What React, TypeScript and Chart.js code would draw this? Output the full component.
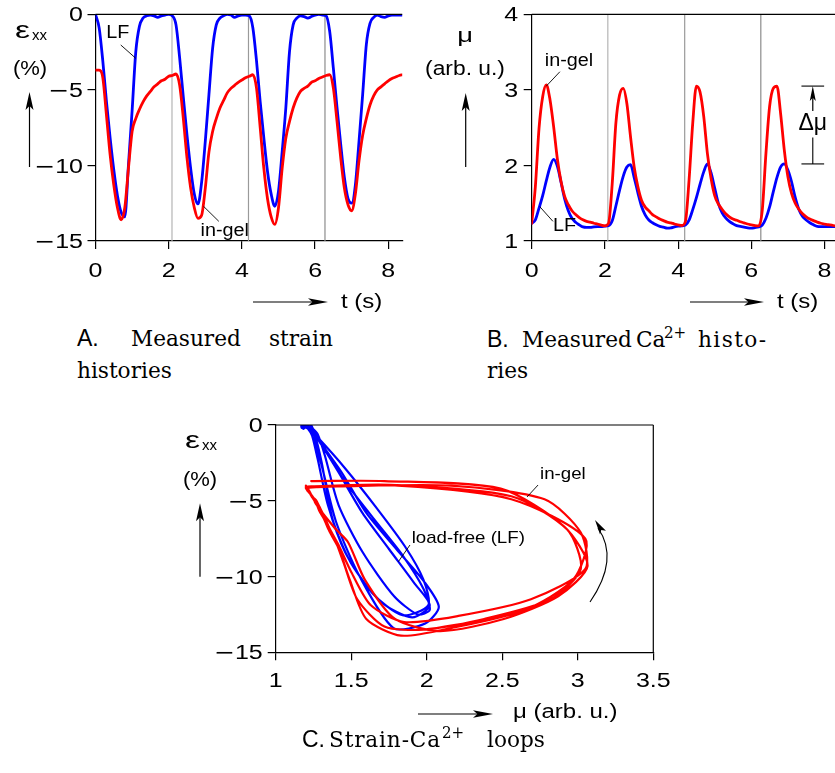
import React, { useEffect, useRef } from "react";
import { Chart, registerables } from "chart.js";

Chart.register(...registerables);

const SANS = "'Liberation Sans', Arial, Helvetica, sans-serif";
const MINUS_FONT = "'DejaVu Sans', 'Liberation Sans', sans-serif";
const SERIF = "'DejaVu Serif', 'Liberation Serif', serif";
const BLUE = "#0000ff";
const RED = "#ff0000";
// figure lettering is set a little wider than the plain face
const TICK_STRETCH = 1.25;

// Sampling instants (s)
const timeS = [
  0, 0.1, 0.2, 0.3, 0.4, 0.5, 0.6, 0.7, 0.8, 0.9,
  1, 1.1, 1.2, 1.3, 1.4, 1.5, 1.6, 1.7, 1.8, 1.9,
  2, 2.1, 2.2, 2.3, 2.4, 2.5, 2.6, 2.7, 2.8, 2.9,
  3, 3.1, 3.2, 3.3, 3.4, 3.5, 3.6, 3.7, 3.8, 3.9,
  4, 4.1, 4.2, 4.3, 4.4, 4.5, 4.6, 4.7, 4.8, 4.9,
  5, 5.1, 5.2, 5.3, 5.4, 5.5, 5.6, 5.7, 5.8, 5.9,
  6, 6.1, 6.2, 6.3, 6.4, 6.5, 6.6, 6.7, 6.8, 6.9,
  7, 7.1, 7.2, 7.3, 7.4, 7.5, 7.6, 7.7, 7.8, 7.9,
  8, 8.1, 8.2, 8.3, 8.4,
];

// Strain eps_xx (%) of the load-free cell
const strainLF = [
  0, -0.9, -3.1, -5.8, -8.2, -10.3, -12.0, -13.1, -13.4, -10.0,
  -6.4, -2.5, -0.8, -0.25, -0.1, -0.05, -0.1, -0.2, -0.1, -0.05,
  0, -0.1, -0.7, -2.9, -5.5, -8.0, -10.2, -11.9, -12.55, -11.1,
  -8.4, -5.3, -2.25, -0.7, -0.25, -0.1, 0, -0.05, -0.2, -0.1,
  -0.05, -0.05, -0.1, -0.9, -3.1, -5.8, -8.2, -10.4, -11.9, -12.7,
  -11.7, -9.1, -6.2, -2.5, -0.7, -0.25, -0.1, -0.15, -0.25, -0.15,
  -0.05, 0, -0.05, -0.1, -1.15, -3.6, -6.2, -8.6, -10.8, -12.2,
  -12.5, -11.3, -8.4, -5.3, -2.0, -0.6, -0.2, -0.05, -0.15, -0.2,
  -0.1, -0.05, -0.05, -0.05, -0.05,
];

// Strain eps_xx (%) of the in-gel cell
const strainInGel = [
  -3.7, -3.7, -4.2, -6.7, -9.3, -11.3, -12.8, -13.6, -12.8, -10.2,
  -7.75, -6.9, -6.3, -5.8, -5.4, -5.1, -4.8, -4.6, -4.4, -4.3,
  -4.1, -4.05, -3.95, -4.7, -6.9, -9.5, -11.5, -12.8, -13.5, -13.3,
  -11.5, -9.1, -7.75, -6.9, -6.2, -5.7, -5.2, -4.9, -4.7, -4.5,
  -4.35, -4.2, -4.1, -4.0, -4.9, -7.5, -10.2, -12.2, -13.4, -13.9,
  -12.8, -10.2, -8.2, -7.1, -6.2, -5.55, -5.1, -4.9, -4.75, -4.5,
  -4.4, -4.25, -4.15, -4.05, -4.0, -4.9, -7.1, -9.5, -11.5, -12.6,
  -13.0, -11.9, -9.7, -8.0, -6.9, -6.0, -5.4, -5.0, -4.8, -4.6,
  -4.4, -4.25, -4.15, -4.05, -4.0,
];

// Ca2+ signal mu (arb. u.) of the load-free cell
const calciumLF = [
  1.235, 1.28, 1.435, 1.6, 1.8, 1.98, 2.08, 1.99, 1.78, 1.556,
  1.4, 1.3, 1.248, 1.214, 1.186, 1.18, 1.18, 1.187, 1.19, 1.19,
  1.197, 1.203, 1.267, 1.463, 1.67, 1.855, 1.978, 2.01, 1.84, 1.64,
  1.46, 1.346, 1.278, 1.241, 1.214, 1.193, 1.184, 1.17, 1.173, 1.187,
  1.197, 1.2, 1.21, 1.276, 1.415, 1.574, 1.751, 1.915, 2.02, 1.903,
  1.7, 1.498, 1.376, 1.305, 1.26, 1.228, 1.203, 1.193, 1.183, 1.173,
  1.17, 1.177, 1.187, 1.211, 1.3, 1.45, 1.65, 1.84, 1.978, 2.02,
  1.94, 1.784, 1.576, 1.417, 1.325, 1.278, 1.241, 1.214, 1.193, 1.19,
  1.19, 1.19, 1.19, 1.19, 1.19,
];

// Ca2+ signal mu (arb. u.) of the in-gel cell
const calciumInGel = [
  1.235, 1.72, 2.49, 2.91, 3.065, 2.87, 2.51, 2.09, 1.79, 1.59,
  1.48, 1.4, 1.35, 1.31, 1.28, 1.26, 1.25, 1.235, 1.225, 1.21,
  1.2, 1.235, 1.76, 2.56, 2.93, 3.02, 2.82, 2.38, 1.98, 1.72,
  1.54, 1.45, 1.4, 1.35, 1.32, 1.29, 1.27, 1.25, 1.24, 1.225,
  1.215, 1.205, 1.26, 1.81, 2.56, 3.05, 2.97, 2.65, 2.16, 1.83,
  1.6, 1.49, 1.42, 1.36, 1.32, 1.29, 1.275, 1.255, 1.24, 1.225,
  1.215, 1.205, 1.2, 1.41, 2.16, 2.78, 3.02, 3.05, 2.69, 2.21,
  1.85, 1.63, 1.5, 1.42, 1.36, 1.32, 1.29, 1.27, 1.25, 1.235,
  1.225, 1.215, 1.21, 1.2, 1.2,
];

// Start of each new contraction cycle (s)
const cycleMarksStrain = [2.09, 4.18, 6.27];
const cycleMarksCalcium = [2.08, 4.18, 6.26];
const cycleMarkColors = ["#b4b4b4", "#9a9a9a", "#8c8c8c"];

// Peak levels bracketed by the delta-mu marker (LF peak, in-gel peak)
const deltaMuLevels = [2.02, 3.05];

// Axis ticks
const timeTicks = [0, 2, 4, 6, 8];
const strainTicks = [-15, -10, -5, 0];
const calciumTicks = [1, 2, 3, 4];
const muTicks = [1, 1.5, 2, 2.5, 3, 3.5];

const fmtTick = (v: number) => (v < 0 ? "\u2212" + String(-v) : String(v));

type Pt = [number, number];

function drawText(ctx: CanvasRenderingContext2D, s: string, x: number, y: number, size: number,
  align: CanvasTextAlign = "left", base: CanvasTextBaseline = "alphabetic", sx = 1) {
  ctx.save();
  ctx.font = `${size}px ${SANS}`;
  ctx.textAlign = align;
  ctx.textBaseline = base;
  ctx.fillStyle = "#000";
  ctx.translate(x, y);
  ctx.scale(sx, 1);
  ctx.fillText(s, 0, 0);
  ctx.restore();
}

// tick number: minus sign from DejaVu Sans, digits from Liberation Sans
function drawNumber(ctx: CanvasRenderingContext2D, label: string, x: number, base: number, align: "center" | "right") {
  const neg = label.charAt(0) === "\u2212";
  const digits = neg ? label.slice(1) : label;
  ctx.save();
  ctx.fillStyle = "#000";
  ctx.textAlign = "left";
  ctx.textBaseline = "alphabetic";
  ctx.font = `20px ${MINUS_FONT}`;
  const wm = neg ? ctx.measureText("\u2212").width : 0;
  ctx.font = `20px ${SANS}`;
  const wd = ctx.measureText(digits).width;
  const total = (wm + wd) * TICK_STRETCH;
  const x0 = align === "center" ? x - total / 2 : x - total;
  ctx.translate(x0, base);
  ctx.scale(TICK_STRETCH, 1);
  if (neg) {
    ctx.font = `20px ${MINUS_FONT}`;
    ctx.fillText("\u2212", 0, 0);
  }
  ctx.font = `20px ${SANS}`;
  ctx.fillText(digits, wm, 0);
  ctx.restore();
}

function drawTickLabels(chart: any, xBase: number, yGap: number) {
  const { ctx, chartArea: a, scales } = chart;
  scales.x.ticks.forEach((t: any) =>
    drawNumber(ctx, fmtTick(t.value), scales.x.getPixelForValue(t.value), a.bottom + xBase, "center")
  );
  scales.y.ticks.forEach((t: any) =>
    drawNumber(ctx, fmtTick(t.value), a.left - yGap, scales.y.getPixelForValue(t.value) + 7.1, "right")
  );
}

function drawSeg(ctx: CanvasRenderingContext2D, a: Pt, b: Pt, w = 1) {
  ctx.strokeStyle = "#000";
  ctx.lineWidth = w;
  ctx.beginPath();
  ctx.moveTo(a[0], a[1]);
  ctx.lineTo(b[0], b[1]);
  ctx.stroke();
}

function drawHead(ctx: CanvasRenderingContext2D, tip: Pt, dx: number, dy: number, len: number, half: number) {
  const m = Math.hypot(dx, dy);
  const ux = dx / m, uy = dy / m;
  const px = -uy, py = ux;
  const bx = tip[0] - ux * len, by = tip[1] - uy * len;
  const nx = tip[0] - ux * len * 0.78, ny = tip[1] - uy * len * 0.78;
  ctx.fillStyle = "#000";
  ctx.beginPath();
  ctx.moveTo(tip[0], tip[1]);
  ctx.lineTo(bx + px * half, by + py * half);
  ctx.lineTo(nx, ny);
  ctx.lineTo(bx - px * half, by - py * half);
  ctx.closePath();
  ctx.fill();
}

function drawArrow(ctx: CanvasRenderingContext2D, from: Pt, to: Pt, len = 18, half = 4, w = 1.2) {
  const dx = to[0] - from[0], dy = to[1] - from[1];
  const m = Math.hypot(dx, dy);
  drawSeg(ctx, from, [to[0] - (dx / m) * len * 0.7, to[1] - (dy / m) * len * 0.7], w);
  drawHead(ctx, to, dx, dy, len, half);
}

function fixedAxis(min: number, max: number, ticks: number[], size: number, horizontal: boolean) {
  return {
    type: "linear",
    min,
    max,
    afterBuildTicks: (s: any) => {
      s.ticks = ticks.map((v) => ({ value: v }));
    },
    afterFit: (s: any) => {
      if (horizontal) s.height = size;
      else s.width = size;
    },
    grid: { drawOnChartArea: false, drawTicks: true, tickLength: 8, color: "#000", lineWidth: 1.2 },
    border: { display: true, color: "#000", width: 1.2 },
    // numbers are lettered by the panel plugin
    ticks: { display: false },
  };
}

function baseOptions(padding: any, scales: any, interp: boolean) {
  return {
    animation: false,
    responsive: false,
    maintainAspectRatio: false,
    layout: { padding },
    events: [],
    plugins: { legend: { display: false }, tooltip: { enabled: false } },
    elements: {
      point: { radius: 0 },
      line: interp
        ? { cubicInterpolationMode: "monotone", borderCapStyle: "round", borderJoinStyle: "round" }
        : { tension: 0.25, borderCapStyle: "round", borderJoinStyle: "round" },
    },
    scales,
  };
}

function series(xs: number[], ys: number[]) {
  return xs.map((x, i) => ({ x, y: ys[i] }));
}

function cycleLines(chart: any, marks: number[]) {
  const { ctx, chartArea: a, scales } = chart;
  ctx.save();
  marks.forEach((t, i) => {
    const px = scales.x.getPixelForValue(t);
    ctx.strokeStyle = cycleMarkColors[i];
    ctx.lineWidth = 1.2;
    ctx.beginPath();
    ctx.moveTo(px, a.top);
    ctx.lineTo(px, a.bottom);
    ctx.stroke();
  });
  ctx.restore();
}

function epsTitle(ctx: CanvasRenderingContext2D, x: number, base: number) {
  drawText(ctx, "\u03b5", x, base, 24, "left", "alphabetic", 1.4);
  drawText(ctx, "xx", x + 17, base + 1.5, 15);
}

/* ---------- A: strain histories ---------- */
const strainConfig = () => ({
  type: "line",
  data: {
    datasets: [
      { data: series(timeS, strainInGel), borderColor: RED, borderWidth: 2.8, order: 0 },
      { data: series(timeS, strainLF), borderColor: BLUE, borderWidth: 2.8, order: 1 },
    ],
  },
  options: baseOptions(
    { left: 0, top: 14.3, right: 420 - 402.2, bottom: 0 },
    {
      x: fixedAxis(0, 8.38, timeTicks, 320 - 241, true),
      y: fixedAxis(-15, 0, strainTicks, 95.5, false),
    },
    true
  ),
  plugins: [
    {
      id: "strainDecor",
      beforeDatasetsDraw: (chart: any) => cycleLines(chart, cycleMarksStrain),
      afterDraw: (chart: any) => {
        const { ctx, chartArea: a, scales } = chart;
        const P = (t: number, v: number): Pt => [scales.x.getPixelForValue(t), scales.y.getPixelForValue(v)];
        ctx.save();
        drawTickLabels(chart, 35.7, 12.5);
        drawSeg(ctx, [a.left, a.top], [a.right, a.top], 1.2);
        drawText(ctx, "LF", ...P(0.61, -1.25), 18, "center", "middle", 1.1);
        drawSeg(ctx, P(0.69, -2.03), P(1.1, -2.91), 0.9);
        drawText(ctx, "in-gel", ...P(3.53, -14.31), 18, "center", "middle", 1.1);
        drawSeg(ctx, P(2.95, -12.7), P(3.37, -13.7), 0.9);
        // y title
        epsTitle(ctx, 15, 38);
        drawText(ctx, "(%)", 30, 69, 20, "center", "middle", 1.1);
        drawArrow(ctx, [29.5, 167], [29.5, 92], 18, 4);
        // x title
        drawArrow(ctx, [253, 302], [328, 302], 20, 3.8);
        drawText(ctx, "t (s)", 341, 308, 20, "left", "alphabetic", 1.2);
        ctx.restore();
      },
    },
  ],
});

/* ---------- B: Ca2+ histories ---------- */
const calciumConfig = () => ({
  type: "line",
  data: {
    datasets: [
      { data: series(timeS, calciumInGel), borderColor: RED, borderWidth: 2.8, order: 0 },
      { data: series(timeS, calciumLF), borderColor: BLUE, borderWidth: 2.8, order: 1 },
    ],
  },
  options: baseOptions(
    { left: 0, top: 14.3, right: 440 - 422.8, bottom: 0 },
    {
      x: fixedAxis(0, 8.5, timeTicks, 320 - 241, true),
      y: fixedAxis(1, 4, calciumTicks, 111.7, false),
    },
    true
  ),
  plugins: [
    {
      id: "calciumDecor",
      beforeDatasetsDraw: (chart: any) => cycleLines(chart, cycleMarksCalcium),
      afterDraw: (chart: any) => {
        const { ctx, chartArea: a, scales } = chart;
        const P = (t: number, v: number): Pt => [scales.x.getPixelForValue(t), scales.y.getPixelForValue(v)];
        ctx.save();
        drawTickLabels(chart, 35.7, 13.5);
        drawSeg(ctx, [a.left, a.top], [a.right, a.top], 1.2);
        drawText(ctx, "in-gel", ...P(1.02, 3.38), 18, "center", "middle", 1.1);
        drawSeg(ctx, P(0.77, 3.24), P(0.4, 3.05), 0.9);
        drawText(ctx, "LF", ...P(0.9, 1.2), 18, "center", "middle", 1.1);
        drawSeg(ctx, P(0.22, 1.455), P(0.58, 1.26), 0.9);
        // delta-mu bracket
        const [lo, hi] = deltaMuLevels;
        drawSeg(ctx, P(7.37, hi), P(7.99, hi), 1.1);
        drawSeg(ctx, P(7.37, lo), P(7.99, lo), 1.1);
        drawArrow(ctx, P(7.68, 2.72), P(7.68, hi), 15, 3);
        drawSeg(ctx, P(7.68, 2.37), P(7.68, lo), 1.1);
        drawText(ctx, "\u0394\u03bc", ...P(7.68, 2.55), 23, "center", "middle");
        // y title
        drawText(ctx, "\u03bc", 45, 36, 21, "center", "middle", 1.3);
        drawText(ctx, "(arb. u.)", 45, 69, 20, "center", "middle", 1.14);
        drawArrow(ctx, [45.7, 167], [45.7, 93], 18, 4);
        // x title
        drawArrow(ctx, [270, 302], [344, 302], 20, 3.8);
        drawText(ctx, "t (s)", 357, 308, 20, "left", "alphabetic", 1.2);
        ctx.restore();
      },
    },
  ],
});

/* ---------- C: strain versus Ca2+ loops ---------- */
const loopConfig = () => ({
  type: "line",
  data: {
    datasets: [
      { data: series(calciumInGel, strainInGel), borderColor: RED, borderWidth: 2.2, order: 0 },
      { data: series(calciumLF, strainLF), borderColor: BLUE, borderWidth: 2.2, order: 1 },
    ],
  },
  options: baseOptions(
    { left: 0, top: 25, right: 500 - 473.3, bottom: 0 },
    {
      x: fixedAxis(1, 3.5, muTicks, 330 - 252.3, true),
      y: fixedAxis(-15, 0, strainTicks, 95.7, false),
    },
    false
  ),
  plugins: [
    {
      id: "loopDecor",
      afterDraw: (chart: any) => {
        const { ctx, chartArea: a, scales } = chart;
        const P = (m: number, v: number): Pt => [scales.x.getPixelForValue(m), scales.y.getPixelForValue(v)];
        ctx.save();
        drawTickLabels(chart, 34.4, 13);
        drawSeg(ctx, [a.left, a.top], [a.right, a.top], 1.2);
        drawSeg(ctx, [a.right, a.top], [a.right, a.bottom], 1.2);
        drawText(ctx, "in-gel", ...P(2.75, -3.56), 17, "left", "alphabetic", 1.1);
        drawSeg(ctx, P(2.737, -3.96), P(2.664, -4.75), 0.9);
        drawText(ctx, "load-free (LF)", ...P(1.9, -7.79), 17, "left", "alphabetic", 1.1);
        drawSeg(ctx, P(1.889, -7.92), P(1.812, -9.02), 0.9);
        // curved direction arrow
        const tail = P(3.081, -11.68), ctrl = P(3.277, -8.84), tip = P(3.114, -6.27);
        ctx.strokeStyle = "#000";
        ctx.lineWidth = 1.1;
        ctx.beginPath();
        ctx.moveTo(tail[0], tail[1]);
        ctx.quadraticCurveTo(ctrl[0], ctrl[1], tip[0] + 3, tip[1] + 8);
        ctx.stroke();
        drawHead(ctx, tip, tip[0] - ctrl[0], tip[1] - ctrl[1], 15, 3.5);
        // y title
        epsTitle(ctx, 5, 48);
        drawText(ctx, "(%)", 20, 80, 20, "center", "middle", 1.1);
        drawArrow(ctx, [20, 176.7], [20, 103.3], 18, 4);
        // x title
        drawArrow(ctx, [238, 314], [313, 314], 20, 3.8);
        drawText(ctx, "\u03bc (arb. u.)", 333, 318, 20, "left", "alphabetic", 1.2);
        ctx.restore();
      },
    },
  ],
});

function ChartCanvas({ left, top, width, height, build }: any) {
  const ref = useRef<HTMLCanvasElement>(null);
  useEffect(() => {
    if (!ref.current) return;
    Chart.defaults.font.family = SANS;
    Chart.defaults.color = "#000";
    const chart = new Chart(ref.current, build());
    return () => chart.destroy();
  }, []);
  return (
    <canvas
      ref={ref}
      width={width}
      height={height}
      style={{ position: "absolute", left, top, width, height }}
    />
  );
}

function Word({ x, base, size = 23, sans = false, ls = 0, children }: any) {
  return (
    <span
      style={{
        position: "absolute",
        left: x,
        top: base - 0.846 * size,
        fontFamily: sans ? SANS : SERIF,
        fontSize: size,
        lineHeight: `${size}px`,
        letterSpacing: ls,
        whiteSpace: "nowrap",
        color: "#000",
        transform: sans ? "none" : "scaleX(0.94)",
        transformOrigin: "0 0",
      }}
    >
      {children}
    </span>
  );
}

export default function App() {
  return (
    <div
      style={{
        position: "absolute",
        left: 0,
        top: 0,
        width: 835,
        height: 773,
        overflow: "hidden",
        background: "#fff",
      }}
    >
      <ChartCanvas left={0} top={0} width={420} height={320} build={strainConfig} />
      <ChartCanvas left={420} top={0} width={440} height={320} build={calciumConfig} />
      <ChartCanvas left={180} top={400} width={500} height={330} build={loopConfig} />

      <Word x={77} base={346} sans>A.</Word>
      <Word x={131} base={346}>Measured</Word>
      <Word x={269} base={346}>strain</Word>
      <Word x={77} base={378}>histories</Word>

      <Word x={487} base={347} sans>B.</Word>
      <Word x={522} base={347}>Measured</Word>
      <Word x={636} base={347}>Ca</Word>
      <Word x={664} base={339} size={16}>2+</Word>
      <Word x={698} base={347} ls={1.5}>histo-</Word>
      <Word x={487} base={378}>ries</Word>

      <Word x={302} base={747} sans>C.</Word>
      <Word x={329} base={747} ls={0.9}>Strain-Ca</Word>
      <Word x={442} base={739} size={16}>2+</Word>
      <Word x={487} base={747}>loops</Word>
    </div>
  );
}
